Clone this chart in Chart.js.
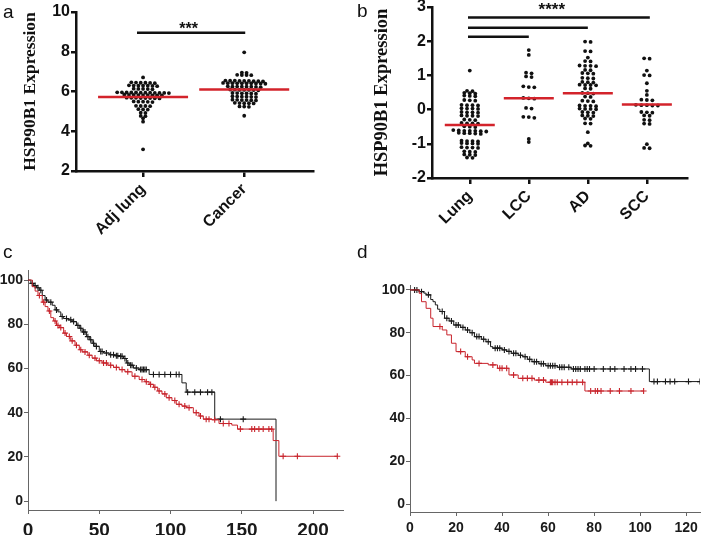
<!DOCTYPE html>
<html><head><meta charset="utf-8">
<script src="https://cdn.jsdelivr.net/npm/chart.js@4/dist/chart.umd.min.js"></script>
<style>
html,body{margin:0;padding:0;background:#fff;overflow:hidden;width:709px;height:535px;position:relative;}
canvas{position:absolute;}
.lab{position:absolute;font-family:'Liberation Sans',Arial,sans-serif;font-size:19px;line-height:19px;color:#111;}
</style></head><body>
<canvas id="ca" width="355" height="265" style="left:0;top:0;width:355px;height:265px"></canvas>
<canvas id="cb" width="354" height="265" style="left:355px;top:0;width:354px;height:265px"></canvas>
<canvas id="cc" width="355" height="290" style="left:0;top:265px;width:355px;height:290px"></canvas>
<canvas id="cd" width="354" height="290" style="left:355px;top:265px;width:354px;height:290px"></canvas>
<div class="lab" style="left:3px;top:2px">a</div>
<div class="lab" style="left:357px;top:1px">b</div>
<div class="lab" style="left:3px;top:242px">c</div>
<div class="lab" style="left:357px;top:242px">d</div>
<script>
// ---------- Panel a ----------
const catsA = ['Adj lung', 'Cancer'];
const adjLung = [6.71,
 6.44,6.45,6.43,6.44,6.46,6.42,
 6.29,6.30,6.28,6.29,6.31,6.27,6.29,
 6.13,6.14,6.12,6.13,6.11,
 5.95,5.94,5.93,5.96,5.94,5.92,5.95,5.93,5.94,5.96,5.93,5.95,
 5.82,5.83,5.81,5.82,5.84,5.80,5.82,5.83,5.81,
 5.67,5.68,5.66,5.67,5.69,5.65,5.67,5.68,
 5.49,5.50,5.48,5.49,5.47,
 5.27,5.28,5.26,5.27,
 5.10,5.11,5.09,
 4.93,4.92,
 4.77,4.76,
 4.65, 4.48, 3.09];
const cancer = [7.97,
 6.95,6.94,
 6.83,6.84,6.82,6.83,
 6.53,6.54,6.52,6.53,6.55,6.51,6.53,6.54,6.52,
 6.41,6.42,6.40,6.41,6.43,6.39,6.41,6.42,6.40,6.41,
 6.24,6.25,6.23,6.24,6.26,6.22,6.24,6.25,
 6.08,6.09,6.07,6.08,6.10,6.06,6.08,
 5.91,5.92,5.90,5.91,5.93,5.89,
 5.74,5.75,5.73,5.74,5.76,5.72,
 5.57,5.58,5.56,5.57,5.59,5.55,
 5.41,5.42,5.40,5.41,5.43,
 5.24,5.25,5.23,
 4.78];
const meansA = [5.72, 6.10];
const yTicksA = [2, 4, 6, 8, 10];
const sigFromA = [0.94], sigToA = [2.01], sigYA = [8.95];
const starsA = ['***'], starXA = [1.45], starYA = [8.95];

// ---------- Panel b ----------
const catsB = ['Lung', 'LCC', 'AD', 'SCC'];
const lungB = [1.14,
 0.54,0.55, 0.48,0.47,0.49, 0.40,0.41,0.39, 0.27,0.28,0.26,
 0.13,0.14,0.12,0.13, 0.03,0.04,0.02,0.03, -0.08,-0.07,-0.09,-0.08,
 -0.18,-0.17,-0.19,-0.18, -0.30,-0.29,-0.31, -0.40,-0.39,-0.41,-0.40,
 -0.50,-0.49,-0.51, -0.62,-0.61,-0.63,-0.62,-0.60,-0.64,-0.62,
 -0.69,-0.68,-0.70,-0.69,-0.71, -0.92,-0.91,-0.93,-0.92,
 -0.99,-0.98,-1.00,-0.99, -1.11,-1.10,-1.12,-1.11,
 -1.23,-1.22,-1.24, -1.32,-1.33,-1.31, -1.40,-1.41];
const lccB = [1.74, 1.60, 1.08, 1.06, 0.97, 0.95, 0.68, 0.66, 0.65, 0.34, 0.33, 0.32,
 0.05, 0.03, -0.21, -0.22, -0.24, -0.86, -0.95];
const adB = [1.99,1.98, 1.71,1.70, 1.52, 1.42,1.41, 1.28,1.27,1.29,1.28, 1.16,1.15,
 1.06,1.05,1.07, 0.92,0.91,0.93, 0.80,0.79,0.81, 0.72,0.71,0.73,0.72, 0.62,0.61,
 0.48,0.47,0.49, 0.38,0.37, 0.25,0.24,0.26, 0.11,0.10,0.12,0.11, 0.02,0.01,0.03,0.02,
 -0.08,-0.07,-0.09, -0.18,-0.17,-0.19, -0.26,-0.27, -0.40,-0.41, -0.66, -0.99, -1.06,-1.05];
const sccB = [1.50,1.49, 1.14, 1.01,1.00, 0.77, 0.55, 0.43, 0.28,0.27,0.29,
 0.13,0.12,0.14,0.13,0.12, -0.08,-0.07,-0.09, -0.18,-0.17, -0.30,-0.31, -0.42,-0.41,
 -1.01, -1.13,-1.12];
const meansB = [-0.45, 0.33, 0.48, 0.15];
const yTicksB = [-2, -1, 0, 1, 2, 3];
const sigFromB = [0.97, 0.97, 0.97], sigToB = [4.05, 3.0, 2.0], sigYB = [2.69, 2.39, 2.13];
const starsB = ['****'], starXB = [2.39], starYB = [2.80];

// ---------- Panel c (Kaplan-Meier) ----------
const xTicksC = [0, 50, 100, 150, 200];
const yTicksKM = [0, 20, 40, 60, 80, 100];
const cBlackT = [0,2,4,6,8,10,12,14,17,19,21,23,25,28,31,34,36,38,41,43,45,47,50,53,57,61,64,67,69,71,74,78,85,108,111,131,174];
const cBlackS = [100,98.5,97.5,96.5,95.4,93,91,90,88.6,86.5,85.6,83.5,82.6,82,81.2,79.5,78.2,76.5,74.4,73,71.4,70,67.7,67,66.2,65.8,65.5,64.5,62.5,61.5,60.2,59.5,57.3,53.5,49.3,37.1,0];
const cBlackCens = [3,5,7,9,13,16,20,24,27,30,32,35,37,39,40,42,44,46,48,51,52,55,58,60,62,63,65,66,68,70,72,73,76,79,80,81,82,83,88,92,96,100,104,106,112,117,121,126,129,135,151];
const cRedT = [0,3,5,7,10,12,14,16,18,20,22,25,27,30,33,36,38,42,45,48,52,56,60,64,68,73,78,82,85,88,91,94,97,101,104,108,111,116,120,123,129,134,143,147,172,176];
const cRedS = [100,97,95,93,90,88,86,83,81.5,79.5,78.5,76,74.5,72.5,70.5,68.5,67.5,66,64.7,63.5,62.5,61.5,60.5,59.5,58.5,56.5,55,54,52.8,51.5,49.8,48.5,46.8,45.5,43.8,43,42.3,40,38.5,37.1,36.8,35.1,34.4,32.6,27.4,20.3];
const cRedCens = [8,11,15,19,21,23,26,29,31,34,37,40,43,47,50,53,55,58,62,66,70,75,80,83,86,89,92,96,99,103,106,110,113,118,121,125,127,131,137,141,149,157,159,162,165,169,171,179,189,217];

// ---------- Panel d (Kaplan-Meier) ----------
const xTicksD = [0, 20, 40, 60, 80, 100, 120];
const dBlackT = [0,4,6,7,9,10,11,12,13,15,17,19,22,24,26,28,31,33,35,36,40,42,44,47,49,51,53,56,59,64,70,104];
const dBlackS = [100,99.2,98.5,97.7,95.5,94.5,93,91,89.9,86.8,85.5,83.6,82.5,81.3,80,78.2,77,75.8,73.5,72.8,72,71.3,70.4,69.5,68.8,67.6,66.5,65.5,64.6,63.9,63.1,57.2];
const dBlackCens = [2,3,5,8,14,16,18,20,21,23,25,27,29,30,32,34,37,38,39,41,43,45,46,48,50,52,54,55,57,58,60,61,62,63,65,66,67,69,71,72,73,74,76,77,78,80,84,87,89,93,96,98,101,106,107.5,111,113,115,121,126];
const dRedT = [0,4,5,7,9,10,14,16,18,20,24,27,28,34,38,43,47,54,59,76];
const dRedS = [100,98.4,94.5,91.4,86.8,82.9,81.3,79,75.1,71.2,68.8,67.3,65.7,65,63.4,60.3,58.7,57.9,56.9,52.8];
const dRedCens = [13,22,25,30,36,39,40,42,45,49,51,53,56,58,61,61.5,62,63,64,66,68.5,70.5,72.5,75,78.5,80.5,81.5,83,87,91,96,101.5];

// ---------- helpers ----------
const SANS = "'Liberation Sans', Arial, sans-serif";
const SERIF = "'Liberation Serif', 'Times New Roman', serif";
const INK = '#111';
const RED = '#d3232b';
const KMRED = '#c8242c';

function zeroPad(s) { s.paddingTop = 0; s.paddingBottom = 0; s.paddingLeft = 0; s.paddingRight = 0; }

function makeAnnot(cfg) {
  return {
    id: 'annot',
    afterDatasetsDraw(chart) {
      const {ctx, scales: {x, y}} = chart;
      ctx.save();
      ctx.lineCap = 'butt';
      ctx.strokeStyle = RED; ctx.lineWidth = 2.6;
      cfg.means.forEach((m, i) => {
        const cx = x.getPixelForValue(i + 1), py = y.getPixelForValue(m);
        ctx.beginPath(); ctx.moveTo(cx - cfg.halfW, py); ctx.lineTo(cx + cfg.halfW, py); ctx.stroke();
      });
      ctx.strokeStyle = INK; ctx.lineWidth = 2.5;
      cfg.from.forEach((f, i) => {
        const py = y.getPixelForValue(cfg.ys[i]);
        ctx.beginPath(); ctx.moveTo(x.getPixelForValue(f), py); ctx.lineTo(x.getPixelForValue(cfg.to[i]), py); ctx.stroke();
      });
      ctx.fillStyle = INK; ctx.font = 'bold ' + cfg.starSize + 'px ' + SANS;
      ctx.textAlign = 'center'; ctx.textBaseline = 'alphabetic';
      cfg.stars.forEach((s, i) => {
        ctx.fillText(s, x.getPixelForValue(cfg.starX[i]), y.getPixelForValue(cfg.starY[i]) + 1);
      });
      ctx.restore();
    }
  };
}

function swarm(chart, groups, spacing, tol) {
  const xs = chart.scales.x, ys = chart.scales.y;
  groups.forEach((vals, gi) => {
    const cx = xs.getPixelForValue(gi + 1);
    const pts = vals.map(v => ({v, py: ys.getPixelForValue(v)})).sort((a, b) => a.py - b.py);
    const out = [];
    let row = [];
    const flush = () => {
      const n = row.length;
      row.forEach((p, i) => out.push({x: xs.getValueForPixel(cx + (i - (n - 1) / 2) * spacing), y: p.v}));
      row = [];
    };
    pts.forEach(p => { if (row.length && p.py - row[0].py > tol) flush(); row.push(p); });
    flush();
    chart.data.datasets[gi].data = out;
  });
  chart.update('none');
}

function dotChart(id, cats, groups, cfg) {
  const tickFont = {family: SANS, size: 16, weight: 'bold'};
  const chart = new Chart(document.getElementById(id), {
    type: 'scatter',
    data: {datasets: groups.map((vals, gi) => ({
      data: vals.map(v => ({x: gi + 1, y: v})),
      backgroundColor: INK, borderWidth: 0, pointRadius: 1.9, pointHoverRadius: 1.9
    }))},
    options: {
      responsive: false, animation: false, events: [],
      layout: {padding: cfg.pad},
      plugins: {legend: {display: false}, tooltip: {enabled: false}},
      scales: {
        x: {
          type: 'linear', min: cfg.xmin, max: cfg.xmax,
          afterBuildTicks: s => { s.ticks = cats.map((c, i) => ({value: i + 1})); },
          ticks: {callback: v => cats[v - 1], minRotation: 45, maxRotation: 45, autoSkip: false,
                  font: tickFont, color: INK, padding: 3},
          grid: {display: true, drawOnChartArea: false, drawTicks: true, tickLength: 6, color: INK, lineWidth: 2.5},
          border: {display: true, color: INK, width: 2.5},
          afterFit: s => { s.height = cfg.xh; zeroPad(s); }
        },
        y: {
          min: cfg.ymin, max: cfg.ymax,
          afterBuildTicks: s => { s.ticks = cfg.yticks.map(v => ({value: v})); },
          ticks: {font: tickFont, color: INK, padding: 1},
          grid: {display: true, drawOnChartArea: false, drawTicks: true, tickLength: 5, color: INK, lineWidth: 2.5},
          border: {display: true, color: INK, width: 2.5},
          title: {display: true, text: 'HSP90B1 Expression', color: INK,
                  font: {family: SERIF, size: cfg.titleSize, weight: 'bold'}, padding: {top: cfg.titlePad, bottom: 0}},
          afterFit: s => { s.width = cfg.yw; zeroPad(s); }
        }
      }
    },
    plugins: [makeAnnot(cfg.annot)]
  });
  swarm(chart, groups, cfg.spacing, cfg.tol);
  return chart;
}

function stepAt(T, S, t) { let s = S[0]; for (let i = 0; i < T.length; i++) { if (T[i] <= t) s = S[i]; else break; } return s; }
function kmLine(T, S, C) {
  const d = T.map((t, i) => ({x: t, y: S[i]}));
  const last = Math.max(...C);
  if (last > T[T.length - 1]) d.push({x: last, y: S[S.length - 1]});
  return d;
}
function kmCens(T, S, C) { return C.map(t => ({x: t, y: stepAt(T, S, t)})); }

function kmChart(id, curves, cfg) {
  const tickFont = {family: SANS, size: 14, weight: 'bold'};
  const ds = [];
  curves.forEach(c => {
    ds.push({type: 'line', data: kmLine(c.T, c.S, c.C), stepped: true, borderColor: c.color, borderWidth: 1,
             pointRadius: 0, fill: false});
    ds.push({type: 'scatter', data: kmCens(c.T, c.S, c.C), pointStyle: 'cross', pointRadius: 3,
             borderColor: c.color, backgroundColor: c.color, borderWidth: 1.1, showLine: false});
  });
  return new Chart(document.getElementById(id), {
    type: 'scatter',
    data: {datasets: ds},
    options: {
      responsive: false, animation: false, events: [],
      layout: {padding: cfg.pad},
      plugins: {legend: {display: false}, tooltip: {enabled: false}},
      scales: {
        x: {
          type: 'linear', min: 0, max: cfg.xmax,
          afterBuildTicks: s => { s.ticks = cfg.xticks.map(v => ({value: v})); },
          ticks: {font: cfg.xFont || tickFont, color: '#1a1a1a', padding: cfg.xPad, maxRotation: 0},
          grid: {display: true, drawOnChartArea: false, drawTicks: true, tickLength: 4, color: '#666', lineWidth: 1},
          border: {display: true, color: '#666', width: 1},
          afterFit: s => { s.height = cfg.xh; zeroPad(s); }
        },
        y: {
          min: cfg.ymin, max: cfg.ymax,
          afterBuildTicks: s => { s.ticks = yTicksKM.map(v => ({value: v})); },
          ticks: {font: tickFont, color: '#1a1a1a', padding: cfg.yPad},
          grid: {display: true, drawOnChartArea: false, drawTicks: true, tickLength: 4, color: '#666', lineWidth: 1},
          border: {display: true, color: '#666', width: 1},
          afterFit: s => { s.width = cfg.yw; zeroPad(s); }
        }
      }
    }
  });
}

// ---------- build ----------
dotChart('ca', catsA, [adjLung, cancer], {
  pad: {top: 12, right: 42, left: 0, bottom: 0}, xh: 94, yw: 76,
  xmin: 0.337, xmax: 2.68, ymin: 2, ymax: 10, yticks: yTicksA,
  titleSize: 17.5, titlePad: 20, spacing: 4.7, tol: 1.5,
  annot: {means: meansA, halfW: 45, from: sigFromA, to: sigToA, ys: sigYA,
          stars: starsA, starX: starXA, starY: starYA, starSize: 16}
});
dotChart('cb', catsB, [lungB, lccB, adB, sccB], {
  pad: {top: 7, right: 22, left: 0, bottom: 0}, xh: 87, yw: 77,
  xmin: 0.36, xmax: 4.68, ymin: -2, ymax: 3, yticks: yTicksB,
  titleSize: 18.5, titlePad: 16, spacing: 5.5, tol: 1.5,
  annot: {means: meansB, halfW: 25, from: sigFromB, to: sigToB, ys: sigYB,
          stars: starsB, starX: starXB, starY: starYB, starSize: 17}
});
kmChart('cc', [
  {T: cRedT, S: cRedS, C: cRedCens, color: KMRED},
  {T: cBlackT, S: cBlackS, C: cBlackCens, color: '#1a1a1a'}
], {pad: {top: 3, right: 12, left: 0, bottom: 0}, xh: 45, yw: 28, xmax: 221, ymin: -4, ymax: 104.5,
    xticks: xTicksC, xPad: 5, yPad: 1,
    xFont: {family: "'Liberation Sans Narrow', 'Arial Narrow', 'Liberation Sans', sans-serif", size: 19, weight: 'bold'}});
kmChart('cd', [
  {T: dRedT, S: dRedS, C: dRedCens, color: KMRED},
  {T: dBlackT, S: dBlackS, C: dBlackCens, color: '#1a1a1a'}
], {pad: {top: 20, right: 9, left: 0, bottom: 0}, xh: 43, yw: 55, xmax: 126, ymin: -3.7, ymax: 102.3,
    xticks: xTicksD, xPad: 4, yPad: 1});
</script>
</body></html>
